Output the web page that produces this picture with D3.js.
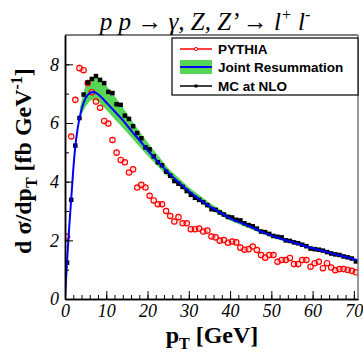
<!DOCTYPE html>
<html>
<head>
<meta charset="utf-8">
<script src="https://cdn.jsdelivr.net/npm/d3@7"></script>
<style>
  body { margin: 0; background: #fff; }
  svg { display: block; }
</style>
</head>
<body>
<div id="chart"></div>
<script>
// pT bin centres (GeV) shared by both Monte Carlo samples
const binCentres = d3.range(71).map((i) => i + 0.5);

const pythiaValues = [
  2.13, 5.54, 6.79, 7.87, 7.80, 7.36, 7.05, 6.73, 6.52, 6.07,
  5.98, 5.42, 4.99, 4.74, 4.66, 4.31, 4.42, 3.80, 3.89, 3.80,
  3.52, 3.36, 3.23, 3.23, 3.00, 2.83, 2.64, 2.79, 2.58, 2.58,
  2.38, 2.38, 2.40, 2.30, 2.33, 2.13, 2.10, 1.99, 2.01, 1.92,
  1.96, 1.93, 1.75, 1.68, 1.70, 1.79, 1.67, 1.50, 1.41, 1.50,
  1.50, 1.27, 1.33, 1.33, 1.40, 1.19, 1.19, 1.33, 1.33, 1.10,
  1.22, 1.27, 1.05, 1.22, 1.07, 0.98, 1.02, 1.02, 0.99, 0.96,
  0.91
];

const mcNloValues = [
  1.24, 3.38, 5.23, 6.17, 6.97, 7.38, 7.50, 7.60, 7.47, 7.36,
  7.06, 7.02, 6.64, 6.62, 6.25, 6.14, 5.89, 5.66, 5.48, 5.17,
  5.10, 4.86, 4.66, 4.56, 4.34, 4.20, 4.02, 3.93, 3.82, 3.68,
  3.55, 3.45, 3.38, 3.30, 3.20, 3.06, 3.04, 2.95, 2.88, 2.80,
  2.78, 2.70, 2.68, 2.58, 2.52, 2.48, 2.40, 2.30, 2.28, 2.22,
  2.15, 2.12, 2.10, 2.00, 1.98, 1.93, 1.90, 1.85, 1.80, 1.72,
  1.70, 1.68, 1.65, 1.60, 1.55, 1.52, 1.50, 1.45, 1.42, 1.38,
  1.28
];

// Joint resummation central curve
const resumPt = [0, 0.5, 1, 1.5, 2, 2.5, 3, 3.5, 4, 4.5, 5, 6, 7, 8, 9, 10, 11, 12, 13, 14,
  16, 18, 20, 22, 24, 26, 28, 30, 32, 34, 36, 38, 40, 44, 48, 52, 56, 60, 64, 68, 71];
const resumValues = [0, 1.3, 2.4, 3.4, 4.4, 5.2, 5.75, 6.15, 6.45, 6.68, 6.85, 7.02, 7.06, 6.98, 6.85, 6.7, 6.55, 6.4, 6.25, 6.1,
  5.75, 5.42, 5.08, 4.76, 4.46, 4.18, 3.92, 3.68, 3.46, 3.26, 3.08, 2.91, 2.75, 2.52, 2.27, 2.07, 1.9, 1.73, 1.58, 1.43, 1.32];

// Joint resummation uncertainty band
const bandPt = [3.6, 5, 6, 7, 8, 9, 10, 12, 14, 16, 18, 20, 25, 30, 35, 40, 45, 50, 55, 60, 65, 70, 71];
const bandLow = [6.2, 6.55, 6.75, 6.8, 6.74, 6.6, 6.45, 6.14, 5.84, 5.52, 5.2, 4.88, 4.16, 3.57, 3.07, 2.67, 2.39, 2.1, 1.88, 1.69, 1.53, 1.31, 1.29];
const bandHigh = [6.5, 7.32, 7.5, 7.57, 7.52, 7.42, 7.27, 6.92, 6.54, 6.12, 5.72, 5.34, 4.46, 3.81, 3.28, 2.84, 2.53, 2.21, 1.98, 1.78, 1.61, 1.38, 1.35];

const xMajorTicks = [0, 10, 20, 30, 40, 50, 60, 70];
const yMajorTicks = [0, 2, 4, 6, 8];

const W = 363, H = 352;
const margin = { top: 35, right: 5, bottom: 53, left: 65 };
const width = W - margin.left - margin.right;
const height = H - margin.top - margin.bottom;

const svg = d3.select('#chart').append('svg')
  .attr('width', W)
  .attr('height', H);

const g = svg.append('g').attr('transform', `translate(${margin.left},${margin.top})`);

const x = d3.scaleLinear().domain([0, 71]).range([0, width]);
const y = d3.scaleLinear().domain([0, 9]).range([height, 0]);

const serif = '"Liberation Serif", "DejaVu Serif", serif';
const sans = '"Liberation Sans", Arial, sans-serif';

// clip to the frame
g.append('clipPath').attr('id', 'clip')
  .append('rect').attr('width', width).attr('height', height);
const plot = g.append('g').attr('clip-path', 'url(#clip)');

// band
const band = bandPt.map((p, i) => ({ p, lo: bandLow[i], hi: bandHigh[i] }));
plot.append('path')
  .datum(band)
  .attr('fill', '#55d655')
  .attr('d', d3.area().x((d) => x(d.p)).y0((d) => y(d.lo)).y1((d) => y(d.hi)));

// pythia error bars + circles
const pythia = binCentres.map((p, i) => ({ p, v: pythiaValues[i] }));
plot.selectAll('line.perr').data(pythia).enter().append('line')
  .attr('class', 'perr')
  .attr('x1', (d) => x(d.p)).attr('x2', (d) => x(d.p))
  .attr('y1', (d) => y(d.v + 0.12)).attr('y2', (d) => y(d.v - 0.12))
  .attr('stroke', '#ffb0b0').attr('stroke-width', 1);
plot.selectAll('circle.py').data(pythia).enter().append('circle')
  .attr('class', 'py')
  .attr('cx', (d) => x(d.p)).attr('cy', (d) => y(d.v))
  .attr('r', 2.7)
  .attr('fill', 'none').attr('stroke', '#ff0000').attr('stroke-width', 1.2);

// MC at NLO squares
const mc = binCentres.map((p, i) => ({ p, v: mcNloValues[i] }));
plot.selectAll('rect.mc').data(mc).enter().append('rect')
  .attr('class', 'mc')
  .attr('x', (d) => x(d.p) - 2.25).attr('y', (d) => y(d.v) - 2.25)
  .attr('width', 4.5).attr('height', 4.5)
  .attr('fill', '#000');

// resummation curve
const resum = resumPt.map((p, i) => ({ p, v: resumValues[i] }));
plot.append('path')
  .datum(resum)
  .attr('fill', 'none')
  .attr('stroke', '#0000ff')
  .attr('stroke-width', 2)
  .attr('d', d3.line().x((d) => x(d.p)).y((d) => y(d.v)).curve(d3.curveMonotoneX));

// Axes (ticks inside the frame)
const xAxis = g.append('g').attr('transform', `translate(0,${height})`)
  .call(d3.axisBottom(x).tickValues(xMajorTicks).tickSizeInner(-8).tickSizeOuter(0).tickPadding(3));
g.append('g').attr('transform', `translate(0,${height})`)
  .call(d3.axisBottom(x).tickValues(d3.range(0, 71, 2)).tickSizeInner(-4).tickSizeOuter(0).tickFormat(''));

const yAxis = g.append('g')
  .call(d3.axisLeft(y).tickValues(yMajorTicks).tickSizeInner(-8).tickSizeOuter(0).tickPadding(6));
g.append('g')
  .call(d3.axisLeft(y).tickValues(d3.range(0, 9, 1)).tickSizeInner(-4).tickSizeOuter(0).tickFormat(''));

g.selectAll('.domain').attr('stroke', '#000').attr('stroke-width', 1.5);
g.selectAll('.tick line').attr('stroke', '#000').attr('stroke-width', 1);
g.selectAll('.tick text')
  .attr('font-family', serif)
  .attr('font-style', 'italic')
  .attr('font-size', '18px')
  .attr('fill', '#000');
xAxis.selectAll('.tick text').attr('dy', '0.82em');

// frame top and right
g.append('line').attr('x1', 0).attr('x2', width).attr('y1', 0).attr('y2', 0)
  .attr('stroke', '#000').attr('stroke-width', 1);
g.append('line').attr('x1', width).attr('x2', width).attr('y1', 0).attr('y2', height)
  .attr('stroke', '#777').attr('stroke-width', 1.5);

// Title
const title = svg.append('text')
  .attr('x', 205).attr('y', 30)
  .attr('text-anchor', 'middle')
  .attr('font-family', serif)
  .attr('font-style', 'italic')
  .attr('font-size', '25px');
title.append('tspan').text('p p \u2192 \u03b3, Z, Z\u2019 \u2192 l');
title.append('tspan').attr('dy', -10).attr('font-size', '16px').text('+');
title.append('tspan').attr('dy', 10).text(' l');
title.append('tspan').attr('dy', -10).attr('font-size', '16px').text('-');

// Axis titles
const yLab = svg.append('text')
  .attr('transform', `translate(31,161) rotate(-90)`)
  .attr('text-anchor', 'middle')
  .attr('font-family', serif)
  .attr('font-weight', 'bold')
  .attr('font-size', '24px');
yLab.append('tspan').text('d \u03c3/dp');
yLab.append('tspan').attr('dy', 6).attr('font-size', '16px').text('T');
yLab.append('tspan').attr('dy', -6).text('  [fb GeV');
yLab.append('tspan').attr('dy', -9).attr('font-size', '16px').text('-1');
yLab.append('tspan').attr('dy', 9).text(']');

const xLab = svg.append('text')
  .attr('x', 212).attr('y', 343)
  .attr('text-anchor', 'middle')
  .attr('font-family', serif)
  .attr('font-weight', 'bold')
  .attr('font-size', '24px');
xLab.append('tspan').text('p');
xLab.append('tspan').attr('dy', 6).attr('font-size', '16px').text('T');
xLab.append('tspan').attr('dy', -6).text(' [GeV]');

// Legend
const leg = svg.append('g');
leg.append('rect')
  .attr('x', 172).attr('y', 38).attr('width', 186).attr('height', 57)
  .attr('fill', '#fff').attr('stroke', '#000').attr('stroke-width', 1.2);

const legendItems = ['PYTHIA', 'Joint Resummation', 'MC at NLO'];
const legY = [49, 67, 86];

leg.append('line').attr('x1', 180).attr('x2', 212).attr('y1', legY[0]).attr('y2', legY[0])
  .attr('stroke', '#ff0000').attr('stroke-width', 1.5);
leg.append('circle').attr('cx', 196).attr('cy', legY[0]).attr('r', 1.6)
  .attr('fill', '#fff').attr('stroke', '#ff0000').attr('stroke-width', 1);

leg.append('rect').attr('x', 180).attr('y', legY[1] - 7).attr('width', 32).attr('height', 14)
  .attr('fill', '#55d655');
leg.append('line').attr('x1', 180).attr('x2', 212).attr('y1', legY[1]).attr('y2', legY[1])
  .attr('stroke', '#0000ff').attr('stroke-width', 2);

leg.append('line').attr('x1', 180).attr('x2', 212).attr('y1', legY[2]).attr('y2', legY[2])
  .attr('stroke', '#000').attr('stroke-width', 1.5);
leg.append('rect').attr('x', 194.5).attr('y', legY[2] - 1.5).attr('width', 3).attr('height', 3)
  .attr('fill', '#000');

leg.selectAll('text.lt').data(legendItems).enter().append('text')
  .attr('class', 'lt')
  .attr('x', 218)
  .attr('y', (d, i) => legY[i] + 5)
  .attr('font-family', sans)
  .attr('font-weight', 'bold')
  .attr('font-size', '13.5px')
  .text((d) => d);
</script>
</body>
</html>
